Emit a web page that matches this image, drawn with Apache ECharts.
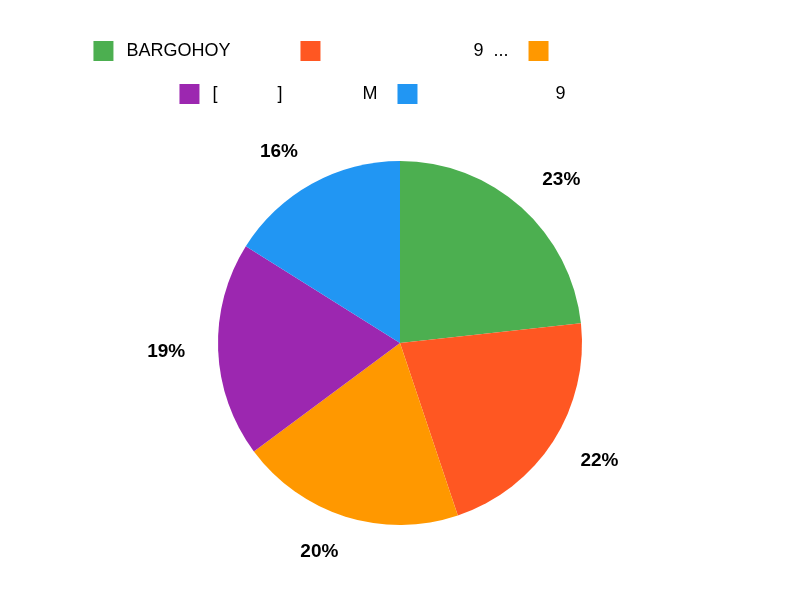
<!DOCTYPE html>
<html><head><meta charset="utf-8">
<script src="https://cdn.jsdelivr.net/npm/echarts@6/dist/echarts.min.js"></script>
<style>html,body{margin:0;padding:0;background:#fff}#c{width:800px;height:600px}</style>
</head><body><div id="c"></div>
<script>
// Category names as they appear (blank runs are shown as spaces)
const categories = [
  'BARGOHOY          ',
  '                            9  ...',
  '                             ',
  '[            ]                M',
  '                         9           '
];
const values = [23.3, 21.6, 20.0, 19.1, 16.1];
const colors = ['#4CAF50', '#FF5722', '#FF9800', '#9C27B0', '#2196F3'];
const legendRow1 = categories.slice(0, 3);
const legendRow2 = categories.slice(3);

const legendBase = {
  left: 'center',
  icon: 'rect',
  itemWidth: 20,
  itemHeight: 20,
  itemGap: 20,
  textStyle: { fontSize: 18, fontFamily: 'sans-serif', color: '#000', padding: [0, 0, 0, 8] }
};

const chart = echarts.init(document.getElementById('c'));
chart.setOption({
  animation: false,
  color: colors,
  legend: [
    Object.assign({ top: 36, data: legendRow1 }, legendBase),
    Object.assign({ top: 79, data: legendRow2 }, legendBase)
  ],
  series: [{
    type: 'pie',
    center: [400, 343],
    radius: 182,
    startAngle: 90,
    clockwise: true,
    percentPrecision: 0,
    label: { show: true, position: 'outside', formatter: '{d}%', fontSize: 19, fontWeight: 'bold', fontFamily: 'sans-serif', color: '#000' },
    labelLine: { show: false, length: 37, length2: -9 },
    emphasis: { disabled: true },
    data: categories.map((n, i) => ({ name: n, value: values[i] }))
  }]
});
</script></body></html>
